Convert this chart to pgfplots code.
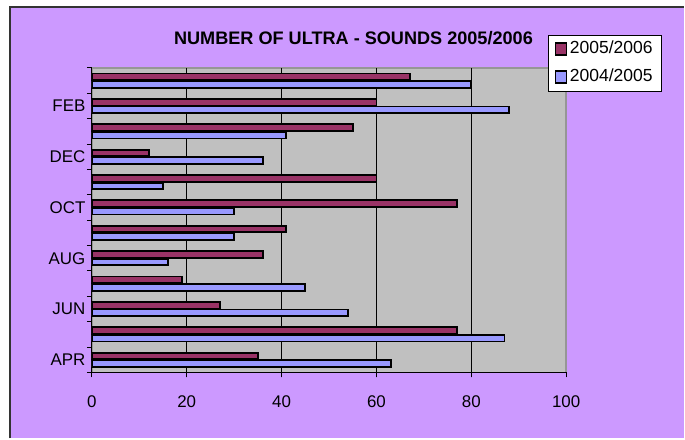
\documentclass[border=0pt]{standalone}
\usepackage{fontspec}
\setmainfont{Liberation Sans}
\usepackage{pgfplots}
\pgfplotsset{compat=1.18}
\definecolor{c_lilac}{RGB}{204,153,255}
\definecolor{c_plot}{RGB}{192,192,192}
\definecolor{c_border}{RGB}{150,150,150}
\definecolor{c_new}{RGB}{153,51,102}
\definecolor{c_old}{RGB}{153,153,255}
\newcommand{\chartfont}{\fontsize{17}{20}\selectfont}

\begin{document}
\begin{tikzpicture}
% chart area
\fill[white] (0,0) rectangle (685bp,439bp);
\fill[c_lilac] (9bp,0) rectangle (685bp,433bp);
\draw[black!80, line width=2bp] (10bp,0) -- (10bp,432bp) -- (685bp,432bp);
\useasboundingbox (0,0) rectangle (685bp,439bp);

\node[font=\fontsize{18.2}{21}\selectfont\bfseries, anchor=base] at (354bp,394bp)
    {NUMBER OF ULTRA - SOUNDS 2005/2006};

\begin{axis}[
    at={(92bp,66bp)}, anchor=south west,
    scale only axis,
    width=475bp, height=305bp,
    xbar, bar width=6.6bp,
    xmin=0, xmax=100, ymin=-0.5, ymax=11.5,
    axis x line*=bottom, axis y line*=left,
    axis line style={-, black, line width=1pt},
    axis background/.style={fill=c_plot, draw=c_border, line width=1.5pt},
    tick align=outside,
    major tick length=5bp,
    tick style={black, line width=1pt},
    /pgf/number format/assume math mode=true,
    tick label style={font=\chartfont},
    xtick={0,20,...,100},
    xticklabel style={yshift=-15bp},
    extra x ticks={20,40,60,80},
    extra x tick labels={},
    extra x tick style={grid=major},
    major grid style={black, line width=0.8pt},
    ytick={-0.5,0.5,...,11.5},
    yticklabels={},
    extra y ticks={0,2,...,10},
    extra y tick labels={APR,JUN,AUG,OCT,DEC,FEB},
    extra y tick style={major tick length=0pt, yticklabel style={xshift=-3bp}},
    legend style={
        at={(axis description cs:0.962,1.108)}, anchor=north west,
        draw=black, line width=0.8pt, fill=white,
        font=\fontsize{17.6}{20}\selectfont,
        inner xsep=6bp, inner ysep=5.5bp,
        row sep=11bp, cells={anchor=west},
        nodes={inner xsep=2.5bp, inner ysep=0pt, text height=13bp, text depth=4bp},
    },
    legend image code/.code={
        \draw[#1, line width=1.8bp] (0bp,-6bp) rectangle (11bp,6bp);
    },
]
% 2005/2006, APR ... MAR
\addplot[fill=c_new, draw=black, line width=1.8bp, bar shift=3.8bp]
coordinates {
    (35,0) (77,1) (27,2) (19,3) (36,4) (41,5)
    (77,6) (60,7) (12,8) (55,9) (60,10) (67,11)
};
% 2004/2005
\addplot[fill=c_old, draw=black, line width=1.8bp, bar shift=-3.8bp]
coordinates {
    (63,0) (87,1) (54,2) (45,3) (16,4) (30,5)
    (30,6) (15,7) (36,8) (41,9) (88,10) (80,11)
};
\legend{2005/2006, 2004/2005}
\end{axis}
\end{tikzpicture}
\end{document}
